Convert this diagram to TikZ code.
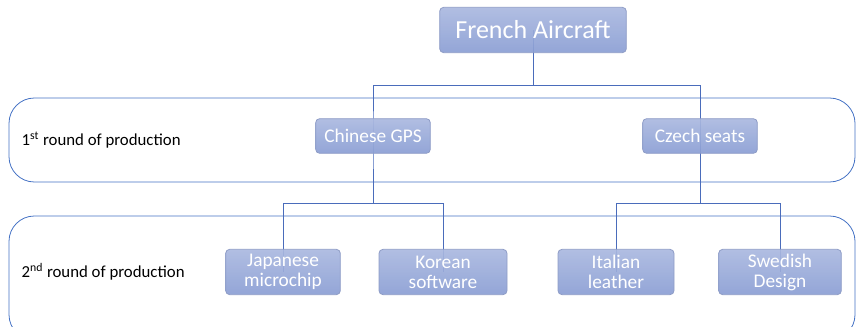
\documentclass[tikz,border=0pt]{standalone}
\usepackage{fontspec}
\setmainfont{Carlito}
\usepackage{tikz}
\usetikzlibrary{positioning}

\definecolor{boxtop}{HTML}{AAB8DF}
\definecolor{boxbot}{HTML}{8A9ED4}
\definecolor{boxline}{HTML}{8E9CC6}
\definecolor{linkblue}{HTML}{4A6CBB}
\definecolor{bandblue}{HTML}{4472C4}

\begin{document}
\begin{tikzpicture}[x=0.75pt,y=-0.75pt,
	part/.style={draw=boxline,line width=0.6pt,rounded corners=3pt,
		top color=boxtop,bottom color=boxbot,fill opacity=0.92,text opacity=1,
		text=white,font=\fontsize{14.5}{15}\selectfont,align=center,
		minimum height=34pt,inner sep=2pt},
	link/.style={draw=linkblue,line width=0.6pt},
	band/.style={draw=bandblue,line width=0.6pt,rounded corners=19pt},
	round/.style={anchor=west,font=\fontsize{12.6}{14}\selectfont}]
	\useasboundingbox (0,0) rectangle (856,327);

	% rounds of production
	\draw[band] (9,98) rectangle (855,182);
	\draw[band] (9,216) rectangle (855,340);
	\node[round] (r1) at (17,140) {1\textsuperscript{st} round of production};
	\node[round] (r2) at (17,272) {2\textsuperscript{nd} round of production};

	\coordinate (j0) at (533,85);
	\coordinate (j1) at (373,203);
	\coordinate (j2) at (700,203);

	% links
	\draw[link] (533,30) -- (j0);
	\draw[link] (j0) -| (373,136) -- (j1);
	\draw[link] (j0) -| (700,136) -- (j2);
	\draw[link] (j1) -| (283,272);
	\draw[link] (j1) -| (443,272);
	\draw[link] (j2) -| (616,272);
	\draw[link] (j2) -| (780,272);

	% parts
	\node[part,minimum width=140pt,minimum height=34pt,
		font=\fontsize{19.5}{20}\selectfont] (fa) at (533,30) {French Aircraft};
	\node[part,minimum width=86pt,minimum height=26pt] (gps) at (373,136) {Chinese GPS};
	\node[part,minimum width=86pt,minimum height=26pt] (cz) at (700,136) {Czech seats};
	\node[part,minimum width=86pt] (jp) at (283,272) {Japanese\\microchip};
	\node[part,minimum width=96pt] (kr) at (443,272) {Korean\\software};
	\node[part,minimum width=87pt] (it) at (616,272) {Italian\\leather};
	\node[part,minimum width=92pt] (sw) at (780,272) {Swedish\\Design};
\end{tikzpicture}
\end{document}
